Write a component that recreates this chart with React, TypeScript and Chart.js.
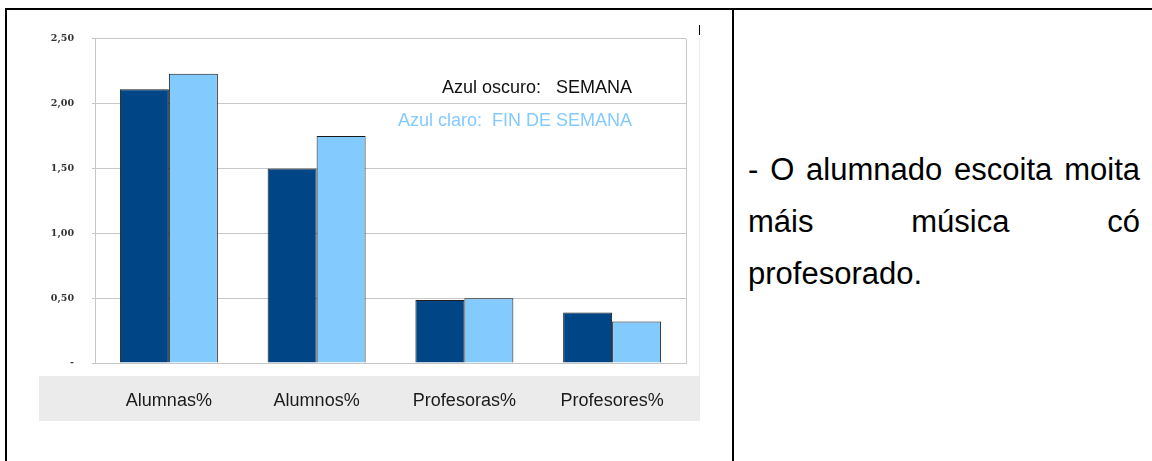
import React, { useEffect, useRef } from 'react';
import { Chart, registerables } from 'chart.js';

Chart.register(...registerables);

const categories = ['Alumnas%', 'Alumnos%', 'Profesoras%', 'Profesores%'];
const semana = [2.11, 1.5, 0.485, 0.39];
const finDeSemana = [2.23, 1.75, 0.5, 0.32];
const yTickLabels = ['-', '0,50', '1,00', '1,50', '2,00', '2,50'];
const seriesNames = ['SEMANA', 'FIN DE SEMANA'];
const legendLines = ['Azul oscuro:   SEMANA', 'Azul claro:  FIN DE SEMANA'];
const noteLines = ['- O alumnado escoita moita', 'máis música có', 'profesorado.'];

const DARK = '#004586';
const LIGHT = '#83caff';
const GRID = '#c8c8c8';

const frameRight = {
  id: 'frameRight',
  afterDraw(chart: any) {
    const { ctx, chartArea } = chart;
    ctx.save();
    ctx.strokeStyle = GRID;
    ctx.lineWidth = 1;
    ctx.beginPath();
    ctx.moveTo(Math.round(chartArea.right) + 0.5, chartArea.top);
    ctx.lineTo(Math.round(chartArea.right) + 0.5, chartArea.bottom);
    ctx.stroke();
    ctx.restore();
  },
};

function BarChart() {
  const ref = useRef<HTMLCanvasElement>(null);
  useEffect(() => {
    if (!ref.current) return;
    const chart = new Chart(ref.current, {
      type: 'bar',
      data: {
        labels: categories,
        datasets: [
          {
            label: seriesNames[0],
            data: semana,
            backgroundColor: DARK,
            borderColor: '#1a1a1a',
            borderWidth: 1,
            barPercentage: 1,
            categoryPercentage: 0.663,
          },
          {
            label: seriesNames[1],
            data: finDeSemana,
            backgroundColor: LIGHT,
            borderColor: '#1a1a1a',
            borderWidth: 1,
            barPercentage: 1,
            categoryPercentage: 0.663,
          },
        ],
      },
      options: {
        responsive: false,
        animation: false,
        devicePixelRatio: 1,
        layout: { padding: { left: 0, right: 14, top: 13, bottom: 0 } },
        plugins: {
          legend: { display: false },
          tooltip: { enabled: false },
          title: { display: false },
        },
        scales: {
          x: {
            grid: { display: false, drawTicks: false },
            border: { display: true, color: GRID, width: 1 },
            ticks: {
              color: '#1a1a1a',
              padding: 27,
              maxRotation: 0,
              autoSkip: false,
              font: { family: '"Liberation Sans", Arial, sans-serif', size: 18 },
            },
            afterFit(scale: any) {
              scale.height = 58;
            },
          },
          y: {
            min: 0,
            max: 2.5,
            grid: { color: GRID, lineWidth: 1, tickLength: 3, drawTicks: true },
            border: { display: true, color: GRID, width: 1 },
            ticks: {
              stepSize: 0.5,
              padding: 18,
              color: '#333333',
              font: { family: '"DejaVu Serif", serif', size: 9.5, weight: 'bold' },
              callback: (_v: any, i: number) => yTickLabels[i],
            },
            afterFit(scale: any) {
              scale.width = 56;
            },
          },
        },
      },
      plugins: [frameRight],
    } as any);
    return () => chart.destroy();
  }, []);
  return (
    <canvas
      ref={ref}
      width={661}
      height={406}
      style={{ position: 'absolute', left: 39, top: 15, width: 661, height: 406 }}
    />
  );
}

export default function App() {
  const abs = (s: React.CSSProperties): React.CSSProperties => ({ position: 'absolute', ...s });
  return (
    <div
      style={{
        position: 'fixed',
        left: 0,
        top: 0,
        width: 1152,
        height: 461,
        background: '#ffffff',
        overflow: 'hidden',
        fontFamily: '"Liberation Sans", Arial, sans-serif',
      }}
    >
      {/* table borders */}
      <div style={abs({ left: 5, top: 8, width: 1147, height: 2, background: '#000' })} />
      <div style={abs({ left: 5, top: 8, width: 2, height: 453, background: '#000' })} />
      <div style={abs({ left: 732, top: 8, width: 2, height: 453, background: '#000' })} />
      {/* chart picture frame bits */}
      <div style={abs({ left: 699, top: 25, width: 1, height: 10, background: '#000' })} />
      <div style={abs({ left: 699, top: 37, width: 1, height: 339, background: '#ececec' })} />
      <div style={abs({ left: 39, top: 376, width: 661, height: 45, background: '#ebebeb' })} />
      <BarChart />
      {/* legend text */}
      <div
        style={abs({
          right: 1152 - 632,
          top: 76,
          fontSize: 18,
          lineHeight: '22px',
          color: '#111',
          whiteSpace: 'pre',
          textAlign: 'right',
        })}
      >
        {legendLines[0]}
      </div>
      <div
        style={abs({
          right: 1152 - 632,
          top: 109,
          fontSize: 18,
          lineHeight: '22px',
          color: LIGHT,
          whiteSpace: 'pre',
          textAlign: 'right',
        })}
      >
        {legendLines[1]}
      </div>
      {/* note text */}
      {noteLines.map((line, i) => (
        <div
          key={i}
          style={abs({
            left: 748,
            width: 392,
            top: 147 + i * 52,
            fontSize: 31,
            lineHeight: '46px',
            color: '#000',
            textAlign: 'justify',
            textAlignLast: i < noteLines.length - 1 ? 'justify' : 'left',
            whiteSpace: 'nowrap',
          } as React.CSSProperties)}
        >
          {line}
        </div>
      ))}
    </div>
  );
}
